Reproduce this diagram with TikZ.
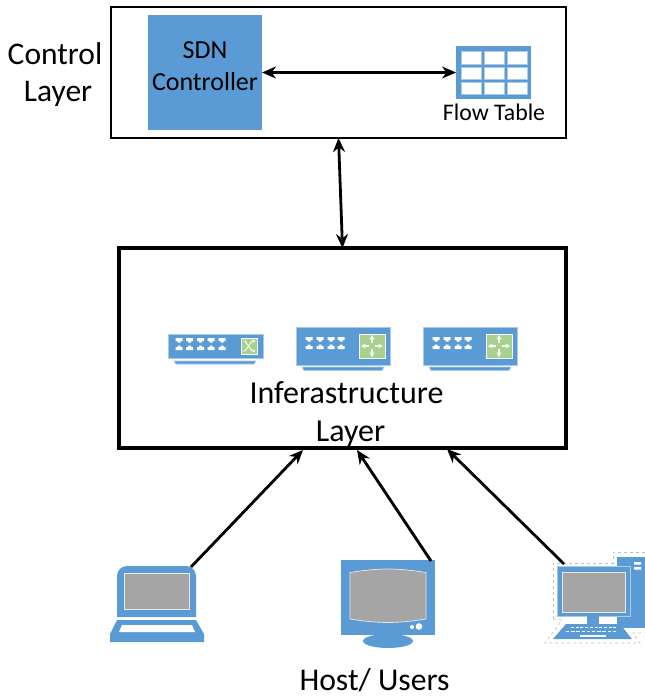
\documentclass[tikz,border=0pt]{standalone}
\usepackage{fontspec}
\setmainfont{Carlito}
\usetikzlibrary{arrows.meta}
\definecolor{iconblue}{HTML}{5B9BD5}
\definecolor{iconedge}{HTML}{A9CBE9}
\definecolor{icongreen}{HTML}{A9D18E}
\definecolor{icongrey}{HTML}{A5A5A5}
\tikzset{
  layerbox/.style={draw,fill=white,inner sep=0pt,outer sep=0pt},
  caption/.style={align=center,inner sep=0pt,text=black},
  link/.style={{Stealth[length=14pt,width=12pt]}-{Stealth[length=14pt,width=12pt]},line width=2.8pt},
  uplink/.style={-{Stealth[length=14pt,width=12pt]},line width=2.8pt},
  whiteport/.style={fill=white,draw=none},
  pics/portpair/.style={code={
    \fill[whiteport] (-3.5,-3) -- (3.5,-3) -- (3.5,0) -- (1.5,0) -- (1.5,1.5) -- (-1.5,1.5) -- (-1.5,0) -- (-3.5,0) -- cycle;
    \fill[whiteport] (-3.5,9) -- (3.5,9) -- (3.5,6) -- (1.5,6) -- (1.5,4.5) -- (-1.5,4.5) -- (-1.5,6) -- (-3.5,6) -- cycle;
  }},
  % small switch, origin at the top left corner
  pics/crossswitch/.style={code={
    \fill[iconblue,draw=iconedge,line width=0.6pt] (0,0) rectangle (95,24);
    \fill[iconblue,draw=iconedge,line width=0.6pt] (6,27) -- (88,27) -- (86,30) -- (8,30) -- cycle;
    \foreach \px in {11,21.5,32.5,43,54} \path (\px,7) pic {portpair};
    \fill[icongreen,draw=white,line width=0.6pt] (73,4) rectangle (89,20);
    \draw[white,line width=0.9pt,-{Stealth[length=3pt,width=3pt]}] (75,7) -- (77,7) -- (84,17) -- (87.5,17);
    \draw[white,line width=0.9pt,-{Stealth[length=3pt,width=3pt]}] (75,17) -- (77,17) -- (84,7) -- (87.5,7);
  }},
  % large switch, origin at the top left corner
  pics/arrowswitch/.style={code={
    \fill[iconblue,draw=iconedge,line width=0.6pt] (0,0) rectangle (94,38);
    \fill[iconblue,draw=iconedge,line width=0.6pt] (6,40) -- (88,40) -- (86,43.5) -- (8,43.5) -- cycle;
    \foreach \px in {13,24,35,45} \path (\px,13) pic {portpair};
    \fill[icongreen,draw=white,line width=0.6pt] (63,7) rectangle (89,31);
    \foreach \ang in {0,90,180,270}
      \draw[white,line width=1.2pt,{Stealth[length=4.5pt,width=5pt]}-] ([shift={(76,19)}]\ang:11) -- ([shift={(76,19)}]\ang:3);
  }}
}
\begin{document}
\begin{tikzpicture}[x=1pt,y=-1pt]
  \useasboundingbox (0,0) rectangle (645,697);

  % control layer
  \node[layerbox,line width=1.5pt,minimum width=455pt,minimum height=131pt] (ctrlbox) at (338.5,72.5) {};
  \node[layerbox,draw=none,fill=iconblue,minimum width=114pt,minimum height=115pt] (controller) at (205,72.5) {};
  \node[caption,font=\fontsize{26}{32}\selectfont] (ctrltxt) at (205,66.5) {SDN\\Controller};
  \node[layerbox,draw=none,fill=iconblue,minimum width=75pt,minimum height=53pt] (flowtable) at (493.5,72.5) {};
  \foreach \cx in {461,484,507} \foreach \cy in {51.5,67,82}
    \fill[white,draw=iconedge,line width=0.6pt] (\cx,\cy) rectangle ++(20.5,12.5);
  \node[caption,font=\fontsize{23.8}{28}\selectfont] (flowtxt) at (494,112) {Flow Table};
  \node[caption,font=\fontsize{31.5}{37}\selectfont] (ctrllabel) at (55,74.5) {Control\\\hspace*{6pt}Layer};
  \draw[link] (controller) -- (flowtable);

  % infrastructure layer
  \node[layerbox,line width=3.5pt,minimum width=447pt,minimum height=200pt] (infrabox) at (342.5,348) {};
  \path (168,334) pic {crossswitch};
  \path (296,327) pic {arrowswitch};
  \path (423,327) pic {arrowswitch};
  \node[caption,font=\fontsize{32}{38}\selectfont] (infratxt) at (346.5,414) {Inferastructure\\\hspace*{8pt}Layer};
  \draw[link] (ctrlbox.south) -- (infrabox.north);

  % laptop
  \fill[iconblue] (117,617) -- (117,576) to[out=90,in=180] (127,566) -- (186,566) to[out=0,in=90] (196,576) -- (196,617) -- cycle;
  \fill[icongrey,draw=white!75!icongrey,line width=0.7pt] (124,573) rectangle (189,609);
  \fill[iconblue] (117,620) -- (196,620) -- (204,634) -- (204,642) -- (110,642) -- (110,634) -- cycle;
  \fill[white] (122,625) -- (192,625) -- (195,632) -- (119,632) -- cycle;

  % monitor
  \fill[iconblue] (341,560) rectangle (435,635);
  \fill[icongrey,draw=white!75!icongrey,line width=0.7pt] (350,572.5) to[bend left=9] (426,572.5) -- (426,619) to[bend left=9] (350,619) -- cycle;
  \fill[white] (412,627) circle (2) (419,626.5) circle (3.3);
  \fill[iconblue] (388,641) ellipse (25 and 7);

  % desktop computer
  \draw[gray!50,line width=0.7pt,dashed] (553,619) -- (553,563) -- (613,563) -- (613,552) -- (645,552);
  \draw[gray!50,line width=0.7pt,dashed] (553,619) -- (562,620) -- (545,643) -- (640,643) -- (633,633) -- (645,633);
  \fill[iconblue] (617,557) rectangle (645,628);
  \fill[white] (634,562) rectangle (641,564.5) (634,567) rectangle (641,569.5);
  \fill[iconblue,draw=iconedge,line width=0.7pt] (557,566) rectangle (630,616);
  \fill[icongrey,draw=white!75!icongrey,line width=0.7pt] (562,572) rectangle (625,612);
  \fill[iconblue] (587,616) rectangle (599,624);
  \fill[iconblue] (566,624) -- (620,624) -- (632,639) -- (553,639) -- cycle;
  \foreach \kx in {0,...,9} {
    \fill[white] (571+\kx*4.7,626.5) rectangle ++(3,1.8);
    \fill[white] (566+\kx*5.2,630.5) rectangle ++(3.4,1.8);
  }
  \fill[white] (580,634.5) rectangle (606,637);

  % hosts
  \coordinate (laptop) at (191,567);
  \coordinate (monitor) at (431,561);
  \coordinate (desktop) at (564,564);
  \coordinate (inA) at (303,450);
  \coordinate (inB) at (357,450);
  \coordinate (inC) at (447,449);
  \draw[uplink] (laptop) -- (inA);
  \draw[uplink] (monitor) -- (inB);
  \draw[uplink] (desktop) -- (inC);
  \node[caption,font=\fontsize{31.7}{36}\selectfont] (hosttxt) at (374.5,680) {Host/ Users};
\end{tikzpicture}
\end{document}
